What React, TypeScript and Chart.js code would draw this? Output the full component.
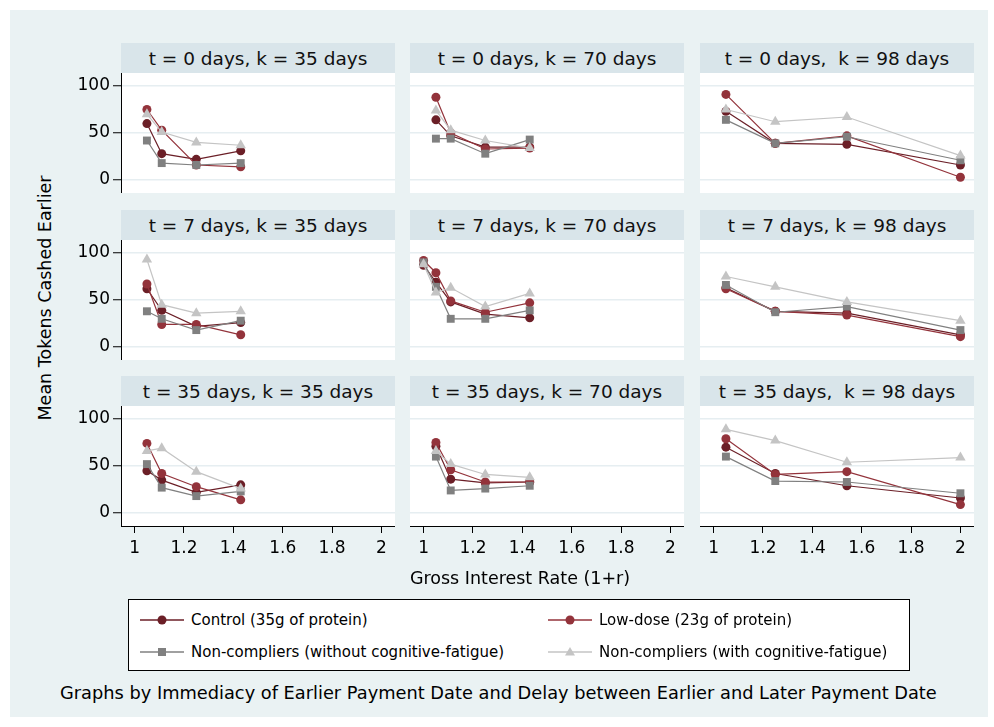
import React, { useEffect, useRef } from 'react';
import { Chart, registerables } from 'chart.js';

Chart.register(...registerables);

const FONT_FAMILY = '"DejaVu Sans", "Liberation Sans", sans-serif';

// ---------------- data ----------------
const xTicks = [1, 1.2, 1.4, 1.6, 1.8, 2];
const xTickLabels = ['1', '1.2', '1.4', '1.6', '1.8', '2'];
const yTicks = [0, 50, 100];
const yTickLabels = ['0', '50', '100'];

const panelTitles = [
  't = 0 days, k = 35 days',
  't = 0 days, k = 70 days',
  't = 0 days,  k = 98 days',
  't = 7 days, k = 35 days',
  't = 7 days, k = 70 days',
  't = 7 days, k = 98 days',
  't = 35 days, k = 35 days',
  't = 35 days, k = 70 days',
  't = 35 days,  k = 98 days',
];

const rateK35 = [1.05, 1.11, 1.25, 1.43];
const rateK70 = [1.05, 1.11, 1.25, 1.43];
const rateK70t7 = [1.0, 1.05, 1.11, 1.25, 1.43];
const rateK98 = [1.05, 1.25, 1.54, 2.0];
const panelRates = [rateK35, rateK70, rateK98, rateK35, rateK70t7, rateK98, rateK35, rateK70, rateK98];

const controlValues = [
  [60, 28, 22, 31], [64, 47, 35, 35], [73, 39, 38, 16],
  [62, 39, 22, 26], [87, 69, 48, 35, 31], [63, 38, 36, 13],
  [45, 35, 22, 30], [71, 36, 32, 33], [70, 42, 29, 16],
];
const lowDoseValues = [
  [75, 53, 16, 14], [88, 50, 33, 34], [91, 39, 47, 3],
  [67, 24, 24, 13], [92, 79, 49, 37, 47], [62, 38, 34, 11],
  [74, 42, 28, 14], [75, 46, 33, 33], [79, 41, 44, 9],
];
const nonCompliersValues = [
  [42, 18, 16, 18], [44, 44, 28, 43], [64, 39, 46, 21],
  [38, 30, 18, 28], [90, 64, 30, 30, 39], [66, 37, 43, 18],
  [52, 27, 18, 23], [60, 24, 26, 29], [60, 34, 33, 21],
];
const fatigueValues = [
  [70, 51, 40, 37], [74, 53, 42, 34], [75, 62, 67, 26],
  [93, 45, 36, 38], [88, 58, 63, 43, 57], [75, 64, 48, 28],
  [66, 69, 44, 26], [66, 52, 41, 38], [89, 77, 54, 59],
];

const seriesNames = [
  'Control (35g of protein)',
  'Low-dose (23g of protein)',
  'Non-compliers (without cognitive-fatigue)',
  'Non-compliers (with cognitive-fatigue)',
];
const seriesValues = [controlValues, lowDoseValues, nonCompliersValues, fatigueValues];

// ---------------- styles ----------------
const seriesColors = ['#6B1F27', '#93333B', '#808080', '#C4C4C4'];
const seriesShapes = ['circle', 'circle', 'rect', 'triangle'];
const seriesRadius = [4.5, 4.5, 5.6, 6];

const BG = '#EAF2F3';
const HEADER_BG = '#D9E5EA';
const GRID = '#E6EEF1';

const COL_LEFT = [121, 410, 700];
const ROW_TOP = [43, 210, 376];
const PLOT_W = 274;
const PLOT_H = 120;
const HEADER_H = 30;
const Y_AXIS_W = 60;
const X_AXIS_H = 50;
const X_MIN = 0.945;
const X_MAX = 2.055;
const Y_MIN = -13.8;
const Y_MAX = 113.8;

const plotBg = {
  id: 'plotBg',
  beforeDraw(chart: any) {
    const { ctx, chartArea: a } = chart;
    ctx.save();
    ctx.fillStyle = '#ffffff';
    ctx.fillRect(a.left, a.top, a.right - a.left, a.bottom - a.top);
    ctx.restore();
  },
};

function Panel({ idx }: { idx: number }) {
  const ref = useRef<HTMLCanvasElement | null>(null);
  const row = Math.floor(idx / 3);
  const col = idx % 3;
  const showY = col === 0;
  const showX = row === 2;
  const yw = showY ? Y_AXIS_W : 0;
  const xh = showX ? X_AXIS_H : 0;
  const width = PLOT_W + yw;
  const height = PLOT_H + xh;

  useEffect(() => {
    if (!ref.current) return;
    const xs = panelRates[idx];
    const datasets = seriesValues.map((vals, s) => ({
      label: seriesNames[s],
      data: xs.map((x, i) => ({ x, y: vals[idx][i] })),
      borderColor: seriesColors[s],
      backgroundColor: seriesColors[s],
      borderWidth: 1.2,
      pointStyle: seriesShapes[s],
      pointRadius: seriesRadius[s],
      pointHoverRadius: seriesRadius[s],
      pointBorderWidth: 0,
      pointBackgroundColor: seriesColors[s],
      tension: 0,
      clip: false,
      order: 3 - s,
    }));
    const font = { family: FONT_FAMILY, size: 17 };
    const chart = new Chart(ref.current, {
      type: 'line',
      data: { datasets },
      plugins: [plotBg],
      options: {
        animation: false,
        responsive: false,
        devicePixelRatio: 1,
        layout: { padding: 0, autoPadding: false },
        plugins: { legend: { display: false }, tooltip: { enabled: false }, title: { display: false } },
        scales: {
          x: {
            type: 'linear',
            display: showX,
            min: X_MIN,
            max: X_MAX,
            afterBuildTicks: (s: any) => { s.ticks = xTicks.map((v) => ({ value: v })); },
            afterFit: (s: any) => { s.height = xh; s.paddingLeft = 0; s.paddingRight = 0; },
            ticks: {
              font,
              color: '#000',
              padding: 5,
              maxRotation: 0,
              autoSkip: false,
              callback: (_v: any, i: number) => xTickLabels[i],
            },
            grid: { drawOnChartArea: false, drawTicks: true, tickLength: 7, tickColor: '#000', tickWidth: 1 },
            border: { display: true, color: '#000', width: 1 },
          },
          y: {
            type: 'linear',
            min: Y_MIN,
            max: Y_MAX,
            afterBuildTicks: (s: any) => { s.ticks = yTicks.map((v) => ({ value: v })); },
            afterFit: (s: any) => { s.width = yw; s.paddingTop = 0; s.paddingBottom = 0; },
            ticks: {
              display: showY,
              font,
              color: '#000',
              padding: 3,
              callback: (_v: any, i: number) => yTickLabels[i],
            },
            grid: { color: GRID, lineWidth: 1.5, drawTicks: showY, tickLength: 8, tickColor: '#000', tickWidth: 1 },
            border: { display: showY, color: '#000', width: 1 },
          },
        },
      } as any,
    });
    return () => chart.destroy();
  }, [idx]);

  return (
    <>
      <div
        style={{
          position: 'absolute',
          left: COL_LEFT[col],
          top: ROW_TOP[row],
          width: PLOT_W,
          height: HEADER_H,
          background: HEADER_BG,
          display: 'flex',
          alignItems: 'center',
          justifyContent: 'center',
          fontFamily: FONT_FAMILY,
          fontSize: 18.5,
          color: '#111',
          whiteSpace: 'pre',
        }}
      >
        {panelTitles[idx]}
      </div>
      <canvas
        ref={ref}
        width={width}
        height={height}
        style={{
          position: 'absolute',
          left: COL_LEFT[col] - yw,
          top: ROW_TOP[row] + HEADER_H,
          width,
          height,
        }}
      />
    </>
  );
}

function LegendKey({ s }: { s: number }) {
  const c = seriesColors[s];
  let marker: any = null;
  if (seriesShapes[s] === 'circle') marker = <circle cx={22} cy={8} r={4.5} fill={c} />;
  else if (seriesShapes[s] === 'rect') marker = <rect x={18} y={4} width={8} height={8} fill={c} />;
  else marker = <polygon points="22,3 27,11.5 17,11.5" fill={c} />;
  return (
    <svg width={44} height={16} style={{ display: 'block' }}>
      <line x1={0} y1={8} x2={44} y2={8} stroke={c} strokeWidth={1.5} />
      {marker}
    </svg>
  );
}

function Legend() {
  const items = [0, 1, 2, 3];
  const colX = [12, 420];
  const rowY = [21, 53];
  return (
    <div
      style={{
        position: 'absolute',
        left: 128,
        top: 599,
        width: 782,
        height: 72,
        boxSizing: 'border-box',
        border: '1px solid #000',
        background: '#fff',
      }}
    >
      {items.map((s) => {
        const c = s % 2;
        const r = Math.floor(s / 2);
        return (
          <div
            key={s}
            style={{
              position: 'absolute',
              left: colX[c] - 1,
              top: rowY[r] - 8 - 1,
              height: 16,
              display: 'flex',
              alignItems: 'center',
              whiteSpace: 'nowrap',
            }}
          >
            <LegendKey s={s} />
            <span style={{ marginLeft: 7, fontFamily: FONT_FAMILY, fontSize: 15, color: '#000', lineHeight: '16px' }}>
              {seriesNames[s]}
            </span>
          </div>
        );
      })}
    </div>
  );
}

export default function App() {
  return (
    <div style={{ position: 'absolute', left: 0, top: 0, width: 994, height: 727, background: '#fff', overflow: 'hidden' }}>
      <div style={{ position: 'absolute', left: 10, top: 10, width: 978, height: 707, background: BG }} />
      {[0, 1, 2, 3, 4, 5, 6, 7, 8].map((i) => (
        <Panel key={i} idx={i} />
      ))}
      <div
        style={{
          position: 'absolute',
          left: 45,
          top: 298,
          transform: 'translate(-50%, -50%) rotate(-90deg)',
          fontFamily: FONT_FAMILY,
          fontSize: 17.5,
          color: '#000',
          whiteSpace: 'nowrap',
        }}
      >
        Mean Tokens Cashed Earlier
      </div>
      <div
        style={{
          position: 'absolute',
          left: 520,
          top: 578,
          transform: 'translate(-50%, -50%)',
          fontFamily: FONT_FAMILY,
          fontSize: 17.5,
          color: '#000',
          whiteSpace: 'nowrap',
        }}
      >
        Gross Interest Rate (1+r)
      </div>
      <Legend />
      <div
        style={{
          position: 'absolute',
          left: 60,
          top: 692,
          transform: 'translateY(-50%)',
          fontFamily: FONT_FAMILY,
          fontSize: 17.8,
          color: '#000',
          whiteSpace: 'nowrap',
        }}
      >
        Graphs by Immediacy of Earlier Payment Date and Delay between Earlier and Later Payment Date
      </div>
    </div>
  );
}
